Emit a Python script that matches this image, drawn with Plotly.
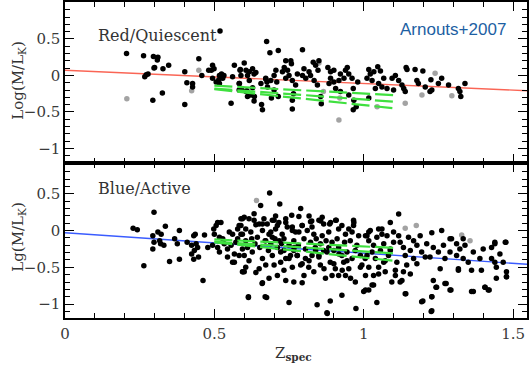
import plotly.graph_objects as go

# ---------------- data ----------------
red_x = [0.206,0.263,0.296,0.311,0.309,0.300,0.298,0.328,0.347,0.278,0.272,0.267,0.294,0.326,0.401,0.408,0.427,0.427,0.448,0.458,0.401,0.481,0.490,0.494,0.499,0.494,0.506,0.517,0.519,0.524,0.532,0.517,0.528,0.515,0.567,0.561,0.556,0.583,0.583,0.586,0.600,0.606,0.611,0.628,0.633,0.617,0.628,0.606,0.633,0.611,0.661,0.656,0.672,
         0.675,0.686,0.714,0.795,0.587,0.639,0.617,0.589,0.584,0.591,0.609,0.622,0.634,0.658,0.672,0.676,0.678,0.689,0.700,0.706,0.709,0.700,0.691,0.714,0.739,0.756,0.758,0.734,0.745,0.728,0.750,0.739,0.761,0.772,0.765,0.761,0.761,0.778,0.800,0.795,0.806,0.817,0.831,0.850,0.839,0.822,0.834,0.845,0.847,0.856,0.858,0.880,0.889,0.900,0.889,0.900,0.884,0.906,0.922,0.917,0.934,0.945,0.939,0.950,0.922,0.961,0.965,0.967,0.965,0.950,
         1.017,1.022,1.011,1.047,1.056,1.034,1.028,1.050,1.061,1.039,1.067,1.017,1.078,1.095,1.106,1.100,1.117,1.128,1.142,1.145,1.134,1.139,1.172,1.178,1.198,1.183,1.206,1.222,1.228,1.225,1.250,1.261,1.284,1.317,1.322,1.325,1.339,0.980,0.975]
red_y = [0.30,0.27,0.26,0.25,0.21,0.11,0.10,0.09,0.14,0.02,0.01,-0.02,-0.34,-0.24,0.05,-0.10,-0.11,-0.16,0.23,0.00,-0.40,0.07,0.07,0.14,0.09,-0.04,-0.09,0.00,0.61,0.02,0.00,-0.11,-0.04,-0.06,0.14,-0.02,-0.38,-0.11,-0.20,0.07,0.17,0.07,0.00,0.09,0.02,-0.07,-0.17,-0.22,-0.35,-0.29,-0.47,-0.11,-0.05,
         0.466,0.31,0.34,0.35,0.08,0.04,0.05,0.00,-0.11,-0.18,-0.21,-0.27,-0.29,-0.40,-0.04,-0.09,-0.16,-0.07,0.00,0.07,-0.09,-0.20,-0.31,-0.29,0.20,0.20,0.16,0.11,0.07,0.05,0.00,-0.04,-0.07,-0.13,-0.25,-0.34,-0.46,0.02,0.09,0.00,-0.04,0.05,0.18,0.20,0.14,0.00,-0.07,-0.13,0.07,-0.29,-0.39,0.11,0.05,0.07,-0.04,-0.09,-0.11,-0.18,0.02,-0.07,-0.04,0.11,0.07,0.02,-0.22,-0.04,-0.18,-0.34,-0.47,-0.27,
         0.08,0.02,-0.04,0.12,0.06,0.05,-0.07,-0.11,-0.16,-0.18,-0.04,-0.31,-0.18,-0.04,0.00,-0.20,-0.07,-0.13,0.11,0.08,-0.18,-0.22,0.08,-0.07,0.06,-0.11,-0.16,-0.22,-0.20,-0.06,-0.11,-0.04,-0.13,-0.18,-0.22,-0.29,-0.11,-0.09,-0.43]
red_gray_x = [0.207,0.448,0.424,0.865,0.920,0.917,1.045,1.139,1.195,1.239,1.295,0.850]
red_gray_y = [-0.32,0.07,-0.21,-0.22,-0.31,-0.61,-0.43,-0.38,-0.27,0.03,-0.28,0.17]

blue_x = [0.298,0.228,0.242,0.264,0.294,0.298,0.294,0.311,0.322,0.317,0.331,0.336,0.320,0.350,0.367,0.376,0.383,0.383,0.409,0.431,0.436,0.424,0.439,0.444,0.433,0.424,0.431,0.447,0.467,0.478,0.462,0.498,0.506,0.511,0.522,0.500,0.517,0.528,0.494,0.511,0.517,0.561,0.556,0.567,0.561,0.594,0.583,0.589,0.578,0.583,0.594,
          0.685,0.655,0.719,0.789,0.783,0.600,0.589,0.616,0.633,0.639,0.650,0.677,0.694,0.716,0.739,0.744,0.794,0.822,0.850,0.866,0.889,0.906,0.966,0.966,0.605,0.622,0.661,0.689,0.705,0.727,0.761,0.783,0.811,0.833,0.861,0.883,0.916,0.939,0.961,
          0.594,0.611,0.627,0.600,0.616,0.596,0.639,0.661,0.672,0.694,0.700,0.683,0.711,0.661,0.722,0.739,0.733,0.766,0.777,0.789,0.766,0.794,0.816,0.805,0.838,0.850,0.855,0.872,0.877,0.888,0.905,0.916,0.927,0.933,0.950,0.972,1.000,0.614,0.675,0.750,0.844,0.888,0.927,0.877,0.974,1.005,1.011,
          1.117,1.261,1.022,1.050,1.061,1.044,1.078,1.017,1.033,1.056,1.011,1.039,1.017,1.050,1.006,1.028,1.017,1.117,1.122,1.133,1.139,1.111,1.133,1.122,1.141,1.167,1.178,1.189,1.194,1.167,1.206,1.156,1.198,1.228,1.233,1.222,1.233,1.228,1.242,1.228,1.267,1.272,1.276,1.289,1.294,1.311,1.322,1.333,1.317,1.339,1.367,1.361,1.367,1.389,1.406,1.420,1.428,1.439,1.456,1.444,1.467,1.476,1.478,1.478,1.444,1.428,1.089,1.100,1.083,1.067,1.106,1.144,
          0.817,0.826,0.856,0.886,0.908,0.967,1.017,1.061,1.289,1.439,1.474,0.661,0.700,0.711,0.739,0.761,0.772,0.794,0.683,0.672,0.694,0.717,0.733,0.750,0.767,0.778,0.794,0.817,0.839,0.850,0.867,0.883,0.900,0.917,0.928,0.944,0.956,0.972,0.989,1.006,1.033,1.050,1.072,1.089,1.106,1.128,1.139,1.194,1.226,1.228,1.244,1.272,1.292,1.317,1.361,1.406,1.417,1.478,0.878,1.044,0.614,0.670,0.600,0.660,
          0.589,0.594,0.605,0.625,0.636,0.644,0.652,0.670,0.681,0.689,0.703,0.711,0.725,0.733,0.750,0.755,0.766,0.781,0.800,0.805,0.822,0.827,0.841,0.855,0.866,0.874,0.894,0.900,0.911,0.916,0.936,0.944,0.955,0.961,0.977,0.983,0.989,0.994,0.605,0.650,0.722,0.761,0.833,0.894,0.800,0.739,0.939,0.633,0.759,0.861,0.827,0.927,0.950,0.666,0.705,
          0.533,0.544,0.550,0.572,0.578,0.567,0.544,1.006,1.028,1.067,1.089,1.072,1.094,1.033,1.100,1.150,1.156,1.178,1.211,1.250,1.256,1.289,1.311,1.333,1.350,1.394,1.439,1.400]
blue_y = [0.25,0.03,0.01,-0.48,-0.07,-0.16,-0.25,-0.02,-0.05,-0.14,-0.20,0.06,-0.18,-0.42,-0.11,-0.18,0.00,-0.39,-0.16,-0.07,-0.05,-0.20,-0.18,-0.23,-0.27,-0.32,-0.39,-0.36,-0.06,-0.23,-0.68,0.02,0.07,0.11,0.11,-0.05,-0.09,-0.11,-0.20,-0.23,-0.29,-0.05,-0.20,-0.32,-0.43,0.16,0.07,-0.05,-0.11,-0.34,-0.56,
          0.51,0.34,0.36,0.30,0.19,0.18,0.16,0.16,0.14,0.08,0.09,0.09,0.14,0.11,0.16,0.05,0.07,0.12,0.14,0.09,0.11,0.14,0.14,0.07,0.02,-0.02,0.00,-0.02,0.02,-0.05,0.00,-0.02,0.00,-0.05,-0.07,-0.02,0.02,-0.05,-0.02,
          -0.25,-0.23,-0.29,-0.34,-0.41,-0.56,-0.57,-0.38,-0.47,-0.34,-0.47,-0.65,-0.61,-0.71,-0.29,-0.38,-0.54,-0.27,-0.34,-0.47,-0.70,-0.71,-0.50,-0.38,-0.23,-0.34,-0.47,-0.65,-0.29,-0.43,-0.52,-0.61,-0.34,-0.43,-0.52,-0.70,-0.83,-0.91,-0.91,-0.98,-1.01,-0.96,-0.88,-1.12,-1.06,-0.38,-0.07,
          0.225,0.00,0.00,0.02,-0.05,-0.09,-0.07,-0.14,-0.20,-0.27,-0.34,-0.38,-0.50,-0.50,-0.61,-0.74,-0.81,-0.07,-0.16,-0.23,-0.34,-0.43,-0.56,-0.70,-0.86,-0.14,-0.20,-0.07,-0.29,-0.38,-0.36,-0.59,-0.96,-0.03,-0.23,-0.36,-0.68,-0.90,-0.77,-1.09,-0.20,-0.38,-0.72,-0.81,-0.11,-0.18,-0.25,-0.38,-0.52,-0.20,-0.29,-0.54,-0.83,-0.38,-0.77,-0.81,-0.23,-0.18,-0.32,-0.50,-0.43,-0.16,-0.56,-0.63,-0.65,-0.38,0.11,-0.16,-0.34,-0.43,-0.61,-0.47,
          0.20,0.13,0.13,0.09,0.14,0.11,-0.02,0.02,-0.11,-0.16,-0.16,0.09,0.14,0.07,0.11,0.05,-0.02,0.07,-0.05,-0.14,-0.09,-0.14,-0.27,-0.38,-0.23,-0.34,-0.45,-0.41,-0.27,-0.36,-0.52,-0.23,-0.45,-0.32,-0.54,-0.41,-0.65,-0.27,-0.50,-0.81,-0.74,-0.59,-0.41,-0.27,-0.54,-0.68,-0.86,-0.97,-1.10,-0.90,-0.77,-0.72,-0.81,-0.54,-0.83,-0.77,-0.81,-0.63,-1.13,-0.98,-0.90,-0.90,-0.56,-0.72,
          0.07,-0.05,-0.14,-0.11,-0.18,-0.09,-0.23,-0.14,-0.27,-0.18,-0.11,-0.23,-0.18,-0.11,-0.20,-0.34,-0.14,-0.20,-0.11,-0.25,-0.16,-0.34,-0.11,-0.18,-0.27,-0.14,-0.16,-0.27,-0.11,-0.23,-0.16,-0.29,-0.14,-0.38,-0.20,-0.07,-0.34,-0.47,-0.50,-0.52,-0.43,-0.50,-0.56,-0.61,-0.61,-0.68,-0.61,0.23,0.21,0.18,0.05,0.07,0.02,0.16,0.20,
          -0.18,-0.25,-0.02,-0.16,0.02,-0.43,-0.36,-0.07,-0.29,-0.18,-0.25,-0.56,-0.70,-0.61,-0.02,-0.09,-0.27,-0.45,-0.18,-0.29,-0.52,-0.29,-0.34,-0.11,-0.43,-0.54,-0.43,-0.25]
blue_gray_x = [0.641,1.139,1.176,1.328,1.356]
blue_gray_y = [0.41,0.03,0.07,-0.06,-0.14]

fit_x = [0.0, 1.55]
red_fit_y = [0.07, -0.21]
blue_fit_y = [-0.03, -0.46]

model_x = [0.5, 1.1]
red_models = [[-0.14, -0.27], [-0.18, -0.36], [-0.19, -0.45]]
blue_models = [[-0.12, -0.235], [-0.15, -0.31], [-0.16, -0.41]]

x_ticks = [0, 0.5, 1, 1.5]
x_ticklabels = ["0", "0.5", "1", "1.5"]
y_ticks = [-1, -0.5, 0, 0.5, 1]
y_ticklabels = ["\u22121", "\u22120.5", "0", "0.5", "1"]

# ---------------- figure ----------------
W, H = 529, 367
ML, MR, MT, MB = 65, 0, 0, 49
plot_h = H - MT - MB
split = (plot_h - 162) / plot_h

fig = go.Figure()

def add_panel(xa, ya, px, py, gx, gy, fy, fcol, models):
    fig.add_trace(go.Scatter(x=fit_x, y=fy, mode="lines", line=dict(color=fcol, width=1.4),
                             xaxis=xa, yaxis=ya, hoverinfo="skip"))
    fig.add_trace(go.Scatter(x=gx, y=gy, mode="markers", marker=dict(color="#a3a3a3", size=5.5),
                             xaxis=xa, yaxis=ya))
    fig.add_trace(go.Scatter(x=px, y=py, mode="markers", marker=dict(color="black", size=5.5),
                             xaxis=xa, yaxis=ya))
    for m in models:
        fig.add_trace(go.Scatter(x=model_x, y=m, mode="lines",
                                 line=dict(color="#3fe03f", width=2.2, dash="18px,5px"),
                                 xaxis=xa, yaxis=ya, hoverinfo="skip"))

add_panel("x", "y", red_x, red_y, red_gray_x, red_gray_y, red_fit_y, "#fa6555", red_models)
add_panel("x2", "y2", blue_x, blue_y, blue_gray_x, blue_gray_y, blue_fit_y, "#3a5cff", blue_models)

tickfont = dict(family="DejaVu Serif", size=15, color="#3a3a3a")
xrange = [0, (W - ML - MR) / 300.0]
common_x = dict(range=xrange, showgrid=False, zeroline=False, showline=True, linecolor="black",
                linewidth=1.5, mirror="ticks", ticks="inside", ticklen=9, tickcolor="black",
                tickwidth=1, tickvals=x_ticks, ticktext=x_ticklabels, tickfont=tickfont,
                minor=dict(dtick=0.1, ticks="inside", ticklen=5, tickcolor="black", tickwidth=1))
common_y = dict(showgrid=False, zeroline=False, showline=True, linecolor="black",
                linewidth=1.5, mirror="ticks", ticks="inside", ticklen=9, tickcolor="black",
                tickwidth=1, tickvals=y_ticks, ticktext=y_ticklabels, tickfont=tickfont,
                minor=dict(dtick=0.1, ticks="inside", ticklen=5, tickcolor="black", tickwidth=1))

fig.update_layout(
    width=W, height=H, margin=dict(l=ML, r=MR, t=MT, b=MB),
    paper_bgcolor="white", plot_bgcolor="white", showlegend=False,
    xaxis=dict(common_x, anchor="y", showticklabels=False),
    yaxis=dict(common_y, domain=[split, 1], range=[-1.2, 1.006], anchor="x"),
    xaxis2=dict(common_x, anchor="y2", showticklabels=True, ticklabelstandoff=1),
    yaxis2=dict(common_y, domain=[0, split], range=[-1.19, 0.92], anchor="x2"),
)

serif = "DejaVu Serif"
anns = [
    dict(text="Red/Quiescent", x=0.103, y=0.55, xref="x", yref="y", xanchor="left", yanchor="middle",
         font=dict(family=serif, size=16, color="#333333")),
    dict(text="Blue/Active", x=0.103, y=0.57, xref="x2", yref="y2", xanchor="left", yanchor="middle",
         font=dict(family=serif, size=16, color="#333333")),
    dict(text="Arnouts+2007", x=1.483, y=0.63, xref="x", yref="y", xanchor="right", yanchor="middle",
         font=dict(family="Liberation Sans", size=17, color="#1d5fa3")),
    dict(text="Log(M/L<sub>K</sub>)", x=(18 - ML) / (W - ML - MR), y=(plot_h - 79) / plot_h,
         xref="paper", yref="paper", textangle=-90, xanchor="center", yanchor="middle",
         font=dict(family=serif, size=15, color="#333333")),
    dict(text="Lg(M/L<sub>K</sub>)", x=(18 - ML) / (W - ML - MR), y=(plot_h - 236) / plot_h,
         xref="paper", yref="paper", textangle=-90, xanchor="center", yanchor="middle",
         font=dict(family=serif, size=15, color="#333333")),
    dict(text="Z<sub><b>spec</b></sub>", x=(294 - ML) / (W - ML - MR), y=(plot_h - 354) / plot_h,
         xref="paper", yref="paper", xanchor="center", yanchor="middle",
         font=dict(family=serif, size=15, color="#333333")),
]
for a in anns:
    a["showarrow"] = False
fig.update_layout(annotations=anns)

fig.write_html("out.html")
